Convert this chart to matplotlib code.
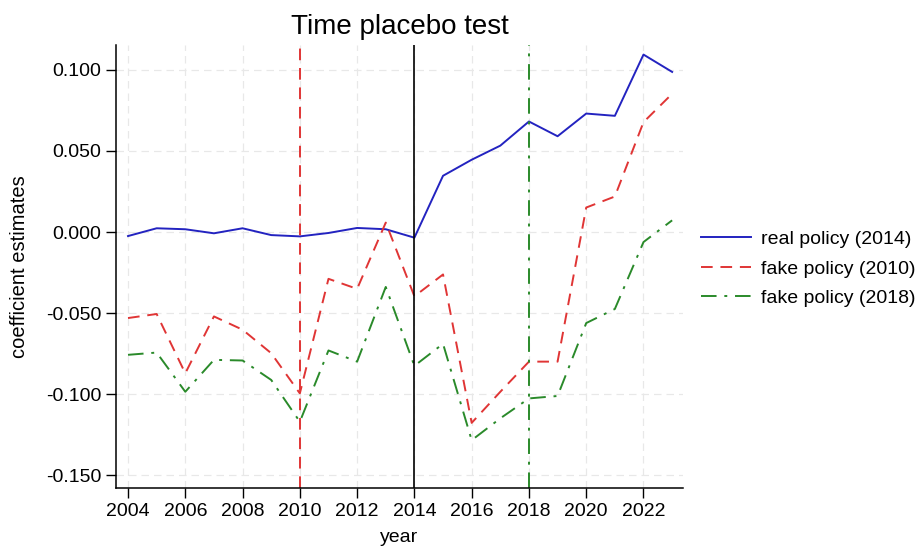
import numpy as np
import matplotlib
matplotlib.use("Agg")
import matplotlib.pyplot as plt

plt.rcParams['font.family'] = ['Liberation Sans', 'DejaVu Sans']

# coefficient estimates by year
years = list(range(2004, 2024))
real_2014 = [-0.0025, 0.0023, 0.0017, -0.0008, 0.0023, -0.0019, -0.0027, -0.0006, 0.0025, 0.0017,
             -0.0035, 0.0347, 0.0446, 0.0533, 0.0682, 0.0591, 0.0731, 0.0717, 0.1095, 0.0988]
fake_2010 = [-0.0531, -0.0506, -0.0872, -0.0521, -0.0603, -0.0748, -0.0996, -0.0289, -0.0351, 0.0058,
             -0.0397, -0.0262, -0.1178, -0.0986, -0.0800, -0.0800, 0.0151, 0.0219, 0.0678, 0.0853]
fake_2018 = [-0.0758, -0.0744, -0.0986, -0.0789, -0.0793, -0.0913, -0.1171, -0.0731, -0.0800, -0.0339,
             -0.0826, -0.0690, -0.1285, -0.1150, -0.1027, -0.1012, -0.0562, -0.0475, -0.0062, 0.0072]

policy_years = [2010, 2014, 2018]
xticks = list(range(2004, 2024, 2))
yticks = [-0.15, -0.10, -0.05, 0.0, 0.05, 0.10]

blue = '#2323c0'
red = '#e03535'
green = '#2a8a2a'

fig = plt.figure(figsize=(9.22, 5.51), dpi=100)
ax = fig.add_axes([0.1258, 0.1143, 0.615, 0.804])

ax.plot(years, real_2014, color=blue, lw=1.4, label='real policy (2014)')
ax.plot(years, fake_2010, color=red, lw=1.4, dashes=(6, 4), label='fake policy (2010)')
ax.plot(years, fake_2018, color=green, lw=1.4, dashes=(8, 4, 1.5, 4), label='fake policy (2018)')

ax.axvline(policy_years[0], color=red, lw=1.4, dashes=(6, 4))
ax.axvline(policy_years[1], color='black', lw=1.2)
ax.axvline(policy_years[2], color=green, lw=1.4, dashes=(8, 4, 1.5, 4))

ax.set_xlim(2003.58, 2023.38)
ax.set_ylim(-0.158, 0.1154)
ax.set_xticks(xticks)
ax.set_yticks(yticks)
ax.set_yticklabels([f'{v:.3f}' for v in yticks])
ax.tick_params(labelsize=14, length=7, width=1, direction='out')
ax.grid(True, color='#e8e8e8', lw=0.9, dashes=(6, 4))
ax.set_axisbelow(True)

for side in ['top', 'right']:
    ax.spines[side].set_visible(False)
for side in ['left', 'bottom']:
    ax.spines[side].set_linewidth(1.1)

ax.set_title('Time placebo test', fontsize=20, pad=8)
ax.set_xlabel('year', fontsize=14, labelpad=7)
ax.set_ylabel('coefficient estimates', fontsize=14.5, labelpad=12)

ax.legend(loc='center left', bbox_to_anchor=(1.0, 0.495), frameon=False, fontsize=14,
          handlelength=2.6, handletextpad=0.5, labelspacing=0.6)

fig.savefig('out.png', dpi=100)
